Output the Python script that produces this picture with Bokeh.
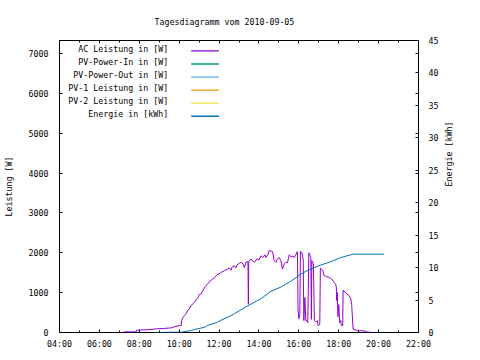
import math
from bokeh.plotting import figure
from bokeh.models import Range1d, LinearAxis, FixedTicker
from bokeh.core.properties import value
from bokeh.embed import file_html
from bokeh.resources import INLINE

# ---------------- data ----------------
title_text = "Tagesdiagramm vom 2010-09-05"

ac_hours = [7.23, 7.84, 7.86, 8.5, 8.8, 9.2, 9.45, 9.6, 9.8, 10.0, 10.11, 10.12, 10.2, 10.27,
            10.35, 10.43, 10.5, 10.6, 10.7, 10.77, 10.85, 10.95, 11.0, 11.1, 11.2, 11.3, 11.43,
            11.55, 11.65, 11.77, 11.85, 11.95, 12.05, 12.1, 12.2, 12.3, 12.43, 12.5, 12.6, 12.65,
            12.77, 12.85, 12.9, 13.02, 13.1, 13.2, 13.27, 13.35, 13.45, 13.47, 13.49, 13.6, 13.7,
            13.77, 13.9, 14.0, 14.1, 14.2, 14.3, 14.35, 14.45, 14.52, 14.6, 14.68, 14.77, 14.85,
            14.93, 15.02, 15.1, 15.18, 15.27, 15.35, 15.43, 15.52, 15.6, 15.7, 15.77, 15.85, 15.93,
            15.96, 16.0, 16.05, 16.08, 16.15, 16.22, 16.25, 16.3, 16.35, 16.4, 16.45, 16.5, 16.55,
            16.6, 16.63, 16.65, 16.73, 16.78, 16.85, 16.92, 16.97, 17.05, 17.08, 17.2, 17.27, 17.4,
            17.52, 17.65, 17.77, 17.85, 17.88, 17.9, 17.93, 17.96, 18.0, 18.05, 18.1, 18.13, 18.2,
            18.22, 18.35, 18.52, 18.6, 18.65, 18.72, 18.93, 19.27, 19.43, 19.7]
ac_watts = [15, 15, 60, 70, 90, 100, 110, 115, 150, 170, 180, 300, 380, 430,
            470, 560, 580, 680, 720, 760, 820, 880, 950, 970, 1060, 1150, 1220,
            1290, 1330, 1380, 1420, 1470, 1480, 1510, 1530, 1560, 1590, 1620, 1560, 1640,
            1675, 1620, 1700, 1735, 1760, 1720, 1630, 1760, 1780, 710, 1780, 1840, 1800,
            1760, 1850, 1820, 1925, 1880, 1950, 1880, 1950, 2065, 2040, 2030, 1800, 1760,
            1850, 1880, 1800, 1590, 1720, 1760, 1750, 1950, 1900, 1920, 1880, 1950, 2030,
            590, 340, 450, 2040, 2000, 1840, 300, 880, 300, 300, 250, 2000, 1950,
            1880, 330, 1800, 1720, 300, 265, 300, 175, 200, 1615, 1560, 1425, 1400,
            1385, 1340, 1260, 1200, 1135, 800, 1000, 400, 700, 250, 300, 175, 175,
            1065, 990, 925, 840, 700, 90, 50, 40, 10, 0]

energy_hours = [8.77, 10.1, 10.6, 10.77, 11.27, 11.43, 11.93, 12.1, 12.6, 12.77, 13.1, 13.43,
                14.1, 14.6, 15.1, 15.6, 16.1, 16.6, 17.1, 17.6, 18.1, 18.72, 20.27]
energy_kwh = [0.0, 0.05, 0.3, 0.46, 0.8, 1.1, 1.6, 1.9, 2.6, 2.9, 3.5, 4.1,
              5.2, 6.35, 7.0, 7.9, 9.0, 9.8, 10.4, 10.9, 11.55, 12.07, 12.07]

legend_labels = ["AC Leistung in [W]", "PV-Power-In in [W]", "PV-Power-Out in [W]",
                 "PV-1 Leistung in [W]", "PV-2 Leistung in [W]", "Energie in [kWh]"]
legend_colors = ["#9400d3", "#009e73", "#56b4e9", "#e69f00", "#f0e442", "#0072b2"]

x_ticks = [4, 6, 8, 10, 12, 14, 16, 18, 20, 22]
x_tick_labels = ["04:00", "06:00", "08:00", "10:00", "12:00", "14:00", "16:00",
                 "18:00", "20:00", "22:00"]
x_minor_ticks = list(range(4, 23))
y_ticks = [0, 1000, 2000, 3000, 4000, 5000, 6000, 7000]
y2_ticks = [0, 5, 10, 15, 20, 25, 30, 35, 40, 45]

X_MIN, X_MAX = 4, 22
Y_MAX = 7325
Y2_MAX = 45

# ---------------- layout ----------------
W, H = 480, 360
FL, FR, FT, FB = 58, 418, 39, 332
FW, FH = FR - FL, FB - FT
FONT = "DejaVu Sans Mono"
FS = "8.3px"

p = figure(width=W, height=H, output_backend="svg", toolbar_location=None,
           x_range=Range1d(X_MIN, X_MAX), y_range=Range1d(0, Y_MAX),
           min_border_left=FL, min_border_right=W - FR,
           min_border_top=FT, min_border_bottom=H - FB,
           x_axis_location=None, y_axis_location=None)
p.extra_y_ranges = {"energy": Range1d(0, Y2_MAX)}
p.xgrid.grid_line_color = None
p.ygrid.grid_line_color = None
p.outline_line_color = "black"
p.outline_line_width = 1
p.background_fill_color = "white"
p.border_fill_color = "white"

p.title.text = title_text
p.title.text_font = FONT
p.title.text_font_size = FS
p.title.text_font_style = "normal"
p.title.text_color = "black"
p.title.align = "left"
p.title.offset = 95
p.title.standoff = 28


def style_axis(ax, tick_len=3, minor_len=0):
    ax.axis_line_color = None
    ax.major_tick_in = tick_len
    ax.major_tick_out = 0
    ax.minor_tick_in = minor_len
    ax.minor_tick_out = 0
    ax.major_tick_line_color = "black"
    ax.minor_tick_line_color = "black" if minor_len else None
    ax.major_label_text_font = FONT
    ax.major_label_text_font_size = FS
    ax.major_label_text_color = "black"
    ax.axis_label_text_font = FONT
    ax.axis_label_text_font_size = FS
    ax.axis_label_text_font_style = "normal"
    ax.axis_label_text_color = "black"


bottom = LinearAxis(ticker=FixedTicker(ticks=x_ticks, minor_ticks=x_minor_ticks))
style_axis(bottom, 3, 2)
bottom.major_label_overrides = dict(zip(x_ticks, x_tick_labels))
bottom.major_label_standoff = 6
p.add_layout(bottom, "below")

top = LinearAxis(ticker=FixedTicker(ticks=x_ticks, minor_ticks=x_minor_ticks))
style_axis(top, 3, 2)
top.major_label_overrides = {t: "" for t in x_ticks}
top.major_label_standoff = 0
p.add_layout(top, "above")

left = LinearAxis(ticker=FixedTicker(ticks=y_ticks), axis_label="Leistung [W]")
style_axis(left, 3, 0)
left.major_label_standoff = 11
left.axis_label_standoff = 12
p.add_layout(left, "left")

right = LinearAxis(y_range_name="energy", axis_label="Energie [kWh]",
                   ticker=FixedTicker(ticks=y2_ticks,
                                      minor_ticks=[t * Y2_MAX / Y_MAX for t in y_ticks]))
style_axis(right, 3, 3)
right.major_label_standoff = 10
right.axis_label_standoff = 8
right.axis_label_orientation = math.pi / 2
p.add_layout(right, "right")

# ---------------- series ----------------
p.line(ac_hours, ac_watts, line_color=legend_colors[0], line_width=1)
p.line(energy_hours, energy_kwh, line_color=legend_colors[5], line_width=1,
       y_range_name="energy")

# ---------------- legend (gnuplot style: text right-aligned, sample on right) ----------------
def px_x(dx):
    return X_MIN + dx / FW * (X_MAX - X_MIN)


def px_y(dy):
    return Y_MAX - dy / FH * Y_MAX


LBL_RIGHT, LINE_L, LINE_R, ROW0, ROW_STEP = 109, 132, 160, 8.5, 13.1
for i, (lab, col) in enumerate(zip(legend_labels, legend_colors)):
    ty = ROW0 + i * ROW_STEP
    p.text(x=[px_x(LBL_RIGHT)], y=[px_y(ty)], text=[lab], text_align="right",
           text_baseline="middle", text_font=value(FONT), text_font_size=FS,
           text_color="black")
    p.segment(x0=[px_x(LINE_L)], y0=[px_y(ty + 2)], x1=[px_x(LINE_R)], y1=[px_y(ty + 2)],
              line_color=col, line_width=1.3)

open("out.html", "w").write(file_html(p, INLINE))
